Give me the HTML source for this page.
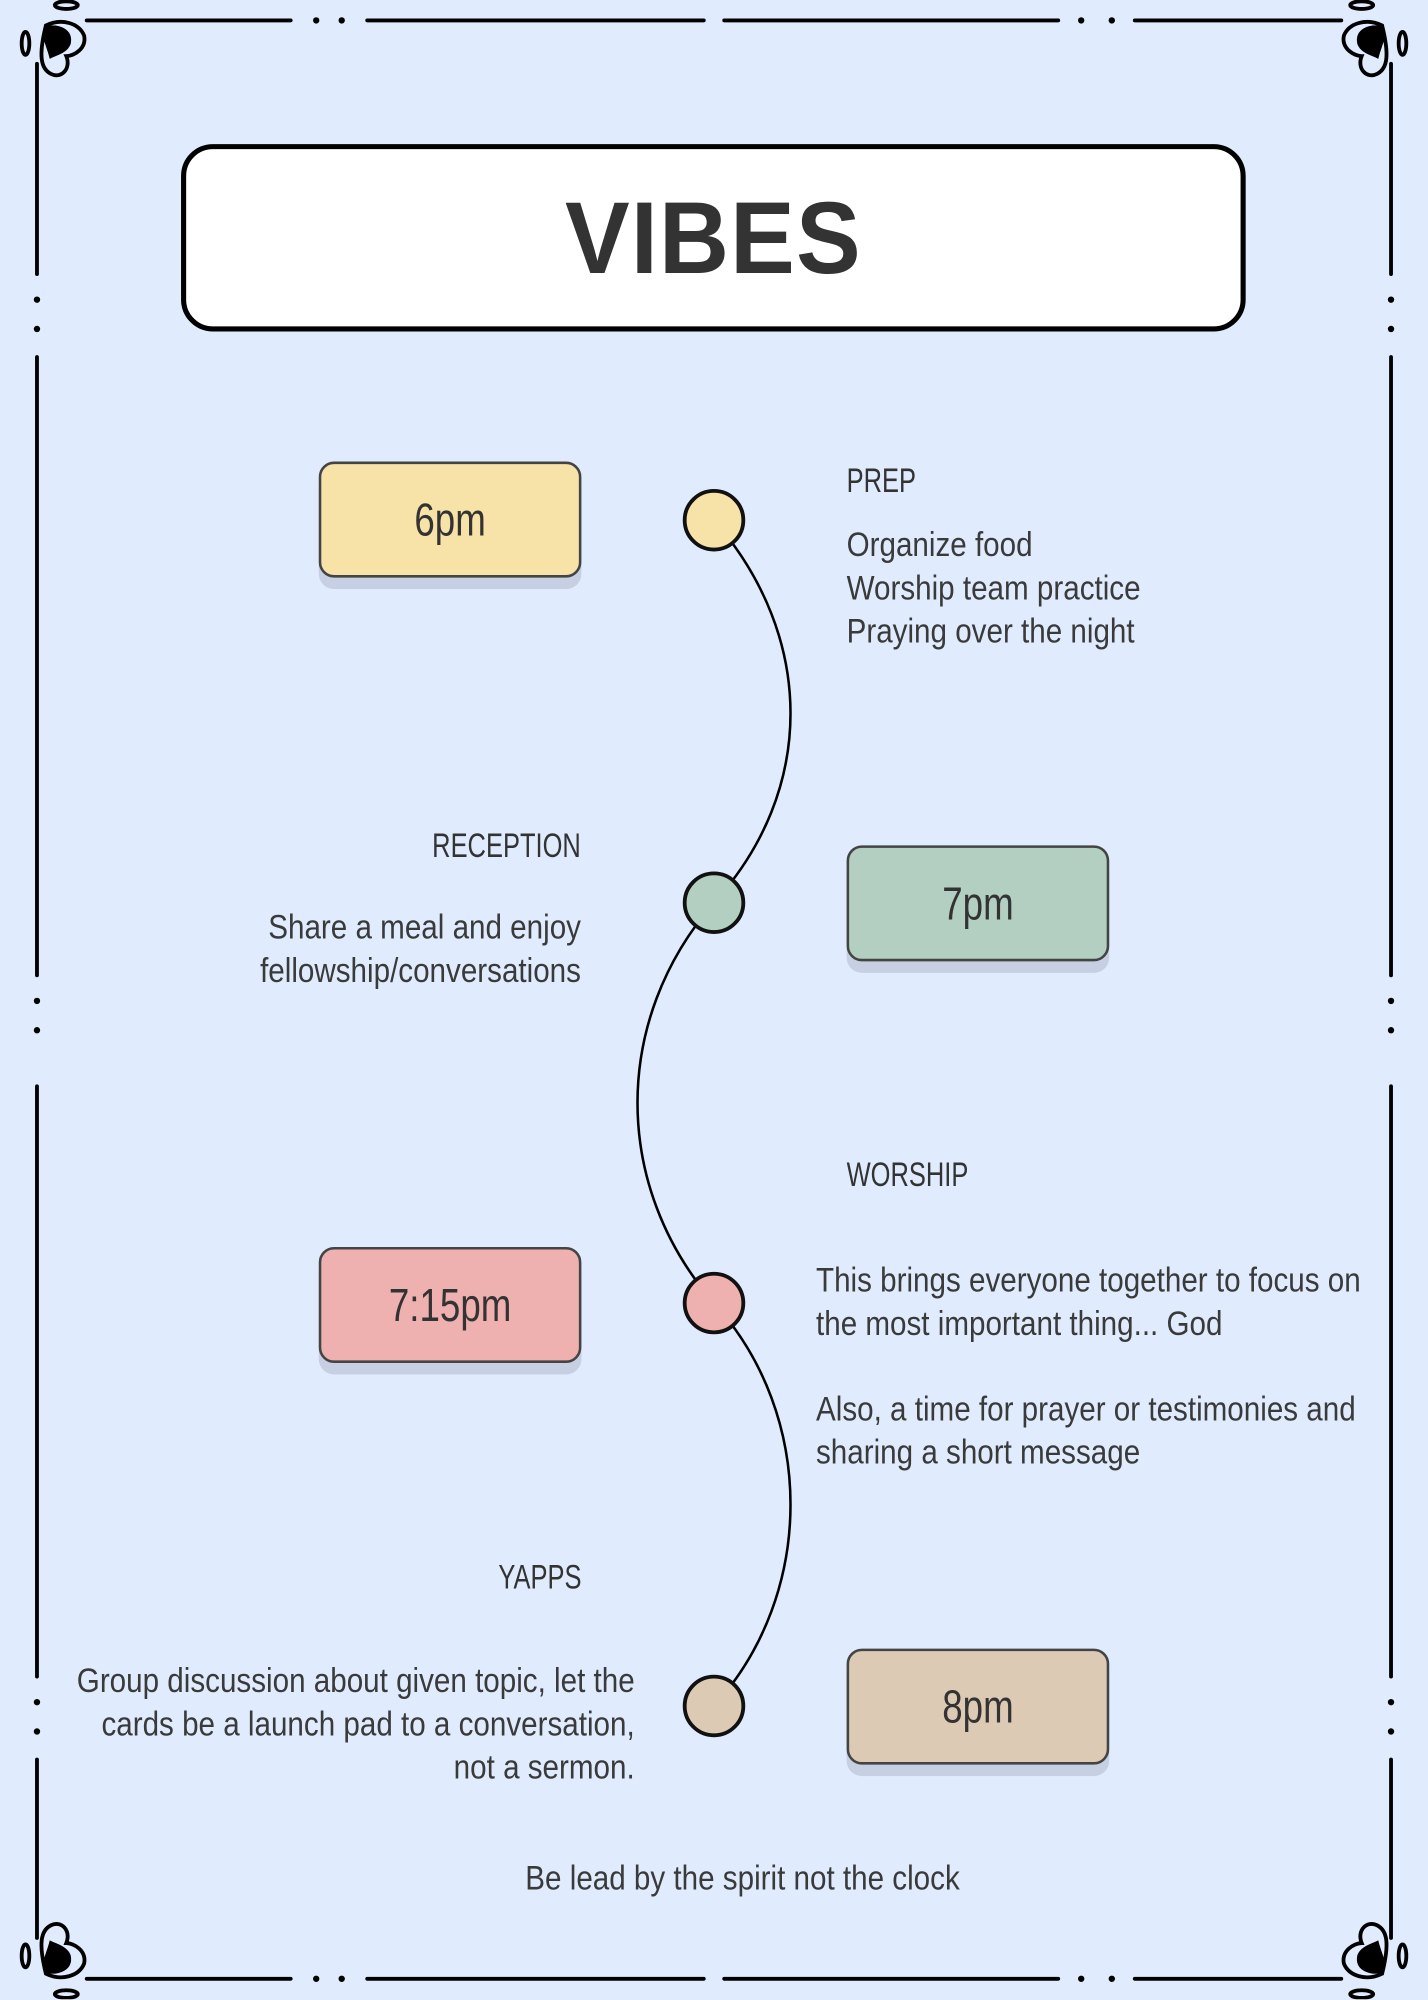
<!DOCTYPE html>
<html><head><meta charset="utf-8"><style>
html,body{margin:0;padding:0;background:#e0ecfe;}
#w{width:1428px;height:2000px;overflow:hidden;position:relative;background:#e0ecfe;}
#s{width:1120px;height:1568px;position:absolute;left:0;top:0;transform:scale(1.275);transform-origin:0 0;font-family:"Liberation Sans",sans-serif;color:#333;}
.a{position:absolute;}
.box{position:absolute;border:2px solid #444;border-radius:12px;box-shadow:0 9px 0 #c6d0e2;display:flex;align-items:center;justify-content:center;font-size:36px;color:#333;box-sizing:border-box;}
.box span{display:inline-block;transform:scaleX(0.8);}
.h{position:absolute;font-size:27px;color:#333;white-space:nowrap;transform:scaleX(0.74);}
.t{position:absolute;font-size:27px;line-height:34px;color:#3a3a3a;white-space:nowrap;transform:scaleX(0.86);}
.L{transform-origin:0 0;}
.R{transform-origin:100% 0;text-align:right;}
</style></head><body><div id="w"><div id="s">
<svg class="a" style="left:0;top:0" width="1120" height="1568">
<g stroke="#000" stroke-width="3" stroke-linecap="round" fill="none">
<path d="M68 16H228 M288 16H552 M568 16H830 M890 16H1052"/>
<path d="M68 1552H228 M288 1552H552 M568 1552H830 M890 1552H1052"/>
<path d="M29 50V215 M29 280V765 M29 852V1315 M29 1380V1520"/>
<path d="M1091 50V215 M1091 280V765 M1091 852V1315 M1091 1380V1520"/>
<path d="M560 408 C640 500,640 620,560 708 C480 800,480 930,560 1022 C640 1110,640 1250,560 1338" stroke-width="2"/>
</g>
<g fill="#000">
<circle cx="248" cy="16" r="2.5"/><circle cx="268" cy="16" r="2.5"/>
<circle cx="848" cy="16" r="2.5"/><circle cx="872" cy="16" r="2.5"/>
<circle cx="248" cy="1552" r="2.5"/><circle cx="268" cy="1552" r="2.5"/><circle cx="848" cy="1552" r="2.5"/><circle cx="872" cy="1552" r="2.5"/>
<circle cx="29" cy="235" r="2.5"/><circle cx="29" cy="258" r="2.5"/><circle cx="29" cy="785" r="2.5"/><circle cx="29" cy="808" r="2.5"/><circle cx="29" cy="1335" r="2.5"/><circle cx="29" cy="1358" r="2.5"/>
<circle cx="1091" cy="235" r="2.5"/><circle cx="1091" cy="258" r="2.5"/><circle cx="1091" cy="785" r="2.5"/><circle cx="1091" cy="808" r="2.5"/><circle cx="1091" cy="1335" r="2.5"/><circle cx="1091" cy="1358" r="2.5"/>
</g>
<g id="c" stroke="#000" stroke-width="3" fill="#e0ecfe">
<path d="M36 20 C48 14,62 18,66 28 C68 38,58 44,52 44 C56 54,48 62,40 58 C32 54,30 44,36 20Z"/>
<path d="M36 22 C46 20,56 24,54 34 C52 40,44 42,40 44 C38 36,34 30,36 22Z" fill="#000"/>
<ellipse cx="20" cy="34" rx="3" ry="9" fill="none"/>
<ellipse cx="52" cy="4" rx="9" ry="3" fill="none"/>
</g>
<use href="#c" transform="translate(1120,0) scale(-1,1)"/>
<use href="#c" transform="translate(0,1568) scale(1,-1)"/>
<use href="#c" transform="translate(1120,1568) scale(-1,-1)"/>
<g stroke="#111" stroke-width="3">
<circle cx="560" cy="408" r="23" fill="#f7e3a7"/>
<circle cx="560" cy="708" r="23" fill="#b2cfc2"/>
<circle cx="560" cy="1022" r="23" fill="#efb0b0"/>
<circle cx="560" cy="1338" r="23" fill="#dccab5"/>
</g>
</svg>
<div class="a" style="left:142px;top:113px;width:835px;height:147px;box-sizing:border-box;border:4px solid #000;border-radius:25px;background:#fff;display:flex;align-items:center;justify-content:center;font-family:'Liberation Sans',sans-serif;font-weight:900;font-size:80px;letter-spacing:1px;color:#333;"><span style="display:inline-block;transform:scaleX(0.95)">VIBES</span></div>
<div class="box" style="left:250px;top:362px;width:206px;height:91px;background:#f7e3a7"><span>6pm</span></div>
<div class="box" style="left:664px;top:663px;width:206px;height:91px;background:#b2cfc2"><span>7pm</span></div>
<div class="box" style="left:250px;top:978px;width:206px;height:91px;background:#efb0b0"><span>7:15pm</span></div>
<div class="box" style="left:664px;top:1293px;width:206px;height:91px;background:#dccab5"><span>8pm</span></div>
<div class="h L" style="left:664px;top:362px">PREP</div>
<div class="t L" style="left:664px;top:410px">Organize food<br>Worship team practice<br>Praying over the night</div>
<div class="h R" style="right:664px;top:648px">RECEPTION</div>
<div class="t R" style="right:664px;top:710px">Share a meal and enjoy<br>fellowship/conversations</div>
<div class="h L" style="left:664px;top:906px">WORSHIP</div>
<div class="t L" style="left:640px;top:987px">This brings everyone together to focus on<br>the most important thing... God</div>
<div class="t L" style="left:640px;top:1088px">Also, a time for prayer or testimonies and<br>sharing a short message</div>
<div class="h R" style="right:664px;top:1222px">YAPPS</div>
<div class="t R" style="right:622px;top:1301px">Group discussion about given topic, let the<br>cards be a launch pad to a conversation,<br>not a sermon.</div>
<div class="t" style="left:412px;top:1456px;transform-origin:0 0">Be lead by the spirit not the clock</div>
</div></div></body></html>
